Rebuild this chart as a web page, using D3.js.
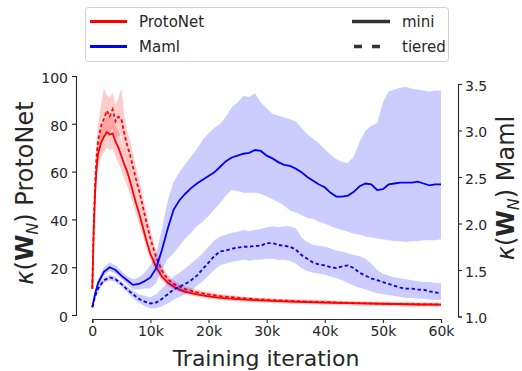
<!DOCTYPE html>
<html><head><meta charset="utf-8">
<script src="https://cdn.jsdelivr.net/npm/d3@7"></script>
<style>
body{margin:0;background:#fff}
svg{font-family:"DejaVu Sans",sans-serif}
</style>
</head><body>
<svg id="chart" width="522" height="371"></svg>
<script>
// ---------------- data (iterations in thousands) ----------------
const redIters = [0,0.25,0.5,0.75,1,1.5,2,2.5,3,3.5,4,4.5,5,5.5,6,6.5,7,7.5,8,8.5,9,9.5,10,11,12,13,14,15,16,18,20,22,25,28,31,34,37,40,44,48,52,56,60];
const protoMini   = [11,36,52,62,67.5,72,74.5,76.5,75.5,76,72.5,70,66.5,63,60,56,51.5,47,43,38.5,34,29.5,25.5,20,16,13.5,11.8,10.6,9.7,8.6,7.8,7.2,6.6,6.2,5.9,5.6,5.4,5.2,4.95,4.75,4.6,4.4,4.3];
const protoMiniLo = [10,33,48,57,62,66,68,70,69,69.5,66,63.5,60.5,57,54,50.5,46.5,42.5,38.5,34.5,30.5,26.5,23,18,14.3,12.1,10.6,9.5,8.7,7.6,6.9,6.3,5.7,5.3,5.0,4.7,4.5,4.3,4.05,3.85,3.7,3.5,3.4];
const protoMiniHi = [12,39,56,67,73,78,81,83,82,83,79,77,73,69.5,66,62,57,52,47.5,43,38,33,28.5,22.5,18,15.2,13.2,11.9,10.9,9.7,8.9,8.3,7.6,7.2,6.9,6.6,6.4,6.2,5.9,5.7,5.55,5.35,5.25];
const protoTiered   = [11,38,56,67,73,79,82,85.5,83,86,81,83,82,76,71,67,62,57,52.5,47.5,42,37,32,24,18.5,15,13,11.8,10.8,9.5,8.6,7.9,7.2,6.6,6.2,5.9,5.6,5.4,5.1,4.85,4.65,4.5,4.35];
const protoTieredLo = [10,34,51,61,67,72,75,77,76,78,74,75,75,69,65,61,56.5,52,47.5,43,37.5,33,28.5,21,16.5,13.3,11.6,10.5,9.6,8.4,7.6,7.0,6.4,6.0,5.6,5.3,5.0,4.8,4.55,4.35,4.2,4.0,3.9];
const protoTieredHi = [12,42,61,73,80,88,95,92,91,93,88,91,95,84,77,73,67.5,62,57.5,52,46.5,41,35.5,27,20.5,16.7,14.4,13.1,12.0,10.6,9.6,8.8,8.0,7.2,6.8,6.5,6.2,6.0,5.65,5.35,5.1,5.0,4.8];

const blueIters = [0,0.5,1,2,3,4,5,6,7,8,9,10,11,12,13,14,15,16,17,18,19,20,21,22,23,24,25,26,27,28,29,30,31,32,33,34,35,36,37,38,39,40,41,42,43,44,45,46,47,48,49,50,51,52,53,54,55,56,57,58,59,60];
const mamlMini   = [1.10,1.25,1.36,1.48,1.53,1.50,1.44,1.39,1.34,1.35,1.38,1.42,1.52,1.72,1.95,2.15,2.25,2.32,2.38,2.43,2.47,2.51,2.55,2.61,2.67,2.71,2.73,2.75,2.76,2.79,2.78,2.73,2.70,2.66,2.63,2.62,2.59,2.55,2.50,2.46,2.42,2.39,2.33,2.29,2.29,2.30,2.34,2.40,2.43,2.42,2.36,2.37,2.42,2.43,2.44,2.44,2.44,2.45,2.43,2.41,2.42,2.42];
const mamlMiniLo = [1.08,1.22,1.32,1.44,1.49,1.46,1.40,1.35,1.29,1.29,1.30,1.30,1.36,1.50,1.62,1.68,1.76,1.84,1.90,1.97,2.02,2.08,2.15,2.22,2.30,2.36,2.35,2.33,2.33,2.33,2.32,2.29,2.26,2.23,2.19,2.14,2.12,2.09,2.06,2.05,2.02,2.00,1.97,1.95,1.93,1.91,1.89,1.88,1.86,1.85,1.84,1.83,1.82,1.81,1.81,1.80,1.81,1.81,1.82,1.82,1.82,1.83];
const mamlMiniHi = [1.12,1.28,1.40,1.53,1.58,1.55,1.49,1.43,1.40,1.42,1.47,1.55,1.68,1.95,2.25,2.45,2.55,2.64,2.72,2.80,2.90,2.97,3.03,3.07,3.15,3.25,3.30,3.37,3.36,3.40,3.30,3.24,3.18,3.16,3.14,3.12,3.10,3.03,2.96,2.91,2.86,2.80,2.74,2.69,2.66,2.65,2.72,2.88,3.00,3.05,3.08,3.30,3.42,3.44,3.46,3.47,3.45,3.44,3.43,3.42,3.43,3.43];
const mamlTiered   = [1.10,1.22,1.30,1.39,1.42,1.40,1.35,1.29,1.24,1.19,1.16,1.14,1.15,1.19,1.24,1.29,1.32,1.35,1.39,1.44,1.51,1.58,1.65,1.70,1.71,1.73,1.74,1.75,1.75,1.76,1.76,1.79,1.79,1.77,1.76,1.75,1.72,1.66,1.62,1.58,1.56,1.55,1.53,1.52,1.54,1.55,1.52,1.47,1.44,1.41,1.39,1.37,1.35,1.33,1.31,1.30,1.30,1.29,1.29,1.27,1.26,1.25];
const mamlTieredLo = [1.09,1.20,1.27,1.36,1.39,1.37,1.32,1.26,1.20,1.15,1.11,1.09,1.09,1.11,1.14,1.18,1.21,1.24,1.28,1.33,1.38,1.44,1.50,1.55,1.57,1.59,1.60,1.61,1.60,1.61,1.61,1.62,1.62,1.61,1.61,1.60,1.57,1.52,1.49,1.47,1.46,1.45,1.43,1.41,1.39,1.36,1.33,1.31,1.29,1.27,1.25,1.24,1.23,1.22,1.21,1.20,1.20,1.19,1.19,1.18,1.18,1.18];
const mamlTieredHi = [1.11,1.24,1.33,1.42,1.45,1.43,1.38,1.32,1.28,1.24,1.22,1.21,1.24,1.30,1.37,1.43,1.47,1.52,1.57,1.62,1.68,1.75,1.82,1.86,1.88,1.90,1.91,1.93,1.92,1.93,1.94,1.96,1.97,1.96,1.97,1.97,1.95,1.85,1.80,1.77,1.76,1.75,1.73,1.71,1.70,1.68,1.66,1.65,1.62,1.57,1.50,1.46,1.44,1.42,1.41,1.40,1.39,1.38,1.37,1.37,1.36,1.36];

const xTicks = [0,10,20,30,40,50,60];
const xTickLabels = ["0","10k","20k","30k","40k","50k","60k"];
const yLeftTicks = [0,20,40,60,80,100];
const yRightTicks = [1.0,1.5,2.0,2.5,3.0,3.5];
const legendModels = ["ProtoNet","Maml"];
const legendDatasets = ["mini","tiered"];

// ---------------- drawing ----------------
const svg = d3.select("#chart");
const textCol = "#262626";
const RED = "#ff0000", BLUE = "#0000ff";

const x = d3.scaleLinear().domain([0,60]).range([92.3,441]);
const yL = d3.scaleLinear().domain([0,100]).range([315,76]);
const yR = d3.scaleLinear().domain([1,3.5]).range([316.5,84]);

function band(iters, lo, hi, y){
  return d3.area().x((d,i)=>x(iters[i])).y0((d,i)=>y(lo[i])).y1((d,i)=>y(hi[i]))(iters);
}
function line(iters, v, y){
  return d3.line().x((d,i)=>x(iters[i])).y((d,i)=>y(v[i]))(iters);
}

// ProtoNet (left axis)
svg.append("path").attr("d", band(redIters, protoMiniLo, protoMiniHi, yL)).attr("fill", RED).attr("fill-opacity",0.2);
svg.append("path").attr("d", band(redIters, protoTieredLo, protoTieredHi, yL)).attr("fill", RED).attr("fill-opacity",0.2);
svg.append("path").attr("d", line(redIters, protoMini, yL)).attr("fill","none").attr("stroke",RED).attr("stroke-width",1.8);
svg.append("path").attr("d", line(redIters, protoTiered, yL)).attr("fill","none").attr("stroke",RED).attr("stroke-width",1.8).attr("stroke-dasharray","3.5,2.5");

// Maml (right axis)
svg.append("path").attr("d", band(blueIters, mamlMiniLo, mamlMiniHi, yR)).attr("fill", BLUE).attr("fill-opacity",0.2);
svg.append("path").attr("d", band(blueIters, mamlTieredLo, mamlTieredHi, yR)).attr("fill", BLUE).attr("fill-opacity",0.2);
svg.append("path").attr("d", line(blueIters, mamlMini, yR)).attr("fill","none").attr("stroke",BLUE).attr("stroke-width",1.8);
svg.append("path").attr("d", line(blueIters, mamlTiered, yR)).attr("fill","none").attr("stroke",BLUE).attr("stroke-width",1.8).attr("stroke-dasharray","3.5,2.5");

// Axes
function styleAxis(g){
  g.selectAll("path.domain").attr("stroke", textCol).attr("stroke-width",1.1);
  g.selectAll(".tick line").attr("stroke", textCol).attr("stroke-width",1.1);
  g.selectAll(".tick text").attr("fill", textCol).attr("font-size",14).attr("font-family","DejaVu Sans");
}
const gx = svg.append("g").attr("transform","translate(0,319)")
  .call(d3.axisBottom(x).tickValues(xTicks).tickFormat((d,i)=>xTickLabels[i]).tickSizeOuter(0).tickSize(4).tickPadding(3));
styleAxis(gx);
const gl = svg.append("g").attr("transform","translate(76,0)")
  .call(d3.axisLeft(yL).tickValues(yLeftTicks).tickFormat(d3.format("d")).tickSizeOuter(0).tickSize(4).tickPadding(4));
styleAxis(gl);
gl.selectAll(".tick text").attr("dy","0.45em");
const gr = svg.append("g").attr("transform","translate(458,0)")
  .call(d3.axisRight(yR).tickValues(yRightTicks).tickFormat(d3.format(".1f")).tickSizeOuter(0).tickSize(4).tickPadding(3));
styleAxis(gr);
gr.selectAll(".tick text").attr("dy","0.45em");

// Axis titles
svg.append("text").attr("x", 266).attr("y", 366).attr("text-anchor","middle")
  .attr("font-size",22).attr("fill",textCol).text("Training iteration");

function kappaLabel(tx, ty, name){
  const t = svg.append("text").attr("transform",`translate(${tx},${ty}) rotate(-90)`)
    .attr("text-anchor","middle").attr("font-size",24).attr("fill",textCol);
  t.append("tspan").attr("font-style","italic").text("κ");
  t.append("tspan").text("(");
  t.append("tspan").attr("font-weight","bold").text("W");
  t.append("tspan").attr("font-style","italic").attr("font-size",16).attr("dy",5).text("N");
  t.append("tspan").attr("dy",-5).text(")");
  t.append("tspan").text("\u00a0" + name);
}
kappaLabel(33, 193, "ProtoNet");
kappaLabel(514, 188, "Maml");

// Legend
const lg = svg.append("g");
lg.append("rect").attr("x",85.5).attr("y",7.5).attr("width",363).attr("height",54).attr("rx",3)
  .attr("fill","#fff").attr("stroke","#d0d0d0").attr("stroke-width",1);
const rowsY = [21.5, 46.5];
[RED, BLUE].forEach((c,i)=>{
  lg.append("line").attr("x1",90).attr("x2",127).attr("y1",rowsY[i]).attr("y2",rowsY[i]).attr("stroke",c).attr("stroke-width",3.2);
  lg.append("text").attr("x",139).attr("y",rowsY[i]).attr("dy","0.36em").attr("font-size",15).attr("fill",textCol).text(legendModels[i]);
});
["none","8,10"].forEach((dash,i)=>{
  lg.append("line").attr("x1",dash==="none"?352:354).attr("x2",dash==="none"?390:380).attr("y1",rowsY[i]).attr("y2",rowsY[i])
    .attr("stroke","#333").attr("stroke-width",3.4).attr("stroke-dasharray",dash==="none"?null:dash);
  lg.append("text").attr("x",402).attr("y",rowsY[i]).attr("dy","0.36em").attr("font-size",15).attr("fill",textCol).text(legendDatasets[i]);
});
</script>
</body></html>
